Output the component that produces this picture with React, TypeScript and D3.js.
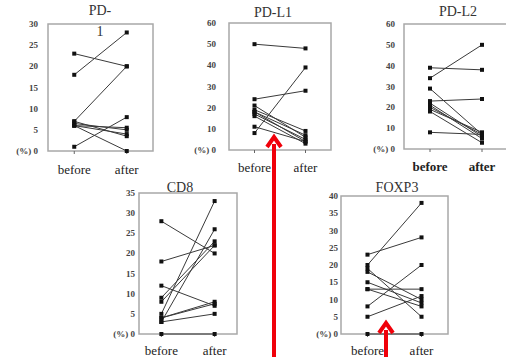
import React from "react";
import { scaleLinear, scalePoint, range } from "d3";

// x categories shared by every panel
const categories = ["before", "after"];

// paired values (%), one entry per patient
const pd1Before = [23, 18, 7, 1, 6.5, 6, 7, 6, 6];
const pd1After = [20, 28, 20, 8, 5, 4, 3.5, 5.5, 0];
const pdl1Before = [50, 24, 8, 19, 18, 17, 18, 21, 11, 16];
const pdl1After = [48, 28, 39, 9, 7, 5, 4, 6, 4, 3];
const pdl2Before = [39, 34, 29, 23, 22, 21, 20, 19, 18, 8];
const pdl2After = [38, 50, 7, 24, 6, 5, 7, 8, 3, 7];
const cd8Before = [28, 18, 12, 5, 3, 9, 8, 4, 3, 4, 0];
const cd8After = [20, 22, 7, 33, 26, 23, 22, 8, 5, 7.5, 0];
const foxp3Before = [23, 20, 18, 19, 15, 13, 13, 8, 5, 0];
const foxp3After = [28, 38, 10, 5, 9, 8, 13, 20, 11, 0];

// y axis extents / tick steps
const pd1Ticks = { max: 30, step: 5 };
const pdlTicks = { max: 60, step: 10 };
const cd8Ticks = { max: 35, step: 5 };
const foxp3Ticks = { max: 40, step: 5 };

const panels = [
  { title: ["PD-", "1"], tx: 100, ty: 15, before: pd1Before, after: pd1After, ticks: pd1Ticks,
    left: 48, right: 153, top: 24, bottom: 151, pad: 0.5, labelY: 174, labelX: 38, bold: false },
  { title: ["PD-L1"], tx: 273, ty: 17, before: pdl1Before, after: pdl1After, ticks: pdlTicks,
    left: 229, right: 331, top: 23, bottom: 150, pad: 0.5, labelY: 172, labelX: 216, bold: false },
  { title: ["PD-L2"], tx: 458, ty: 16, before: pdl2Before, after: pdl2After, ticks: pdlTicks,
    left: 404, right: 508, top: 24, bottom: 149, pad: 0.5, labelY: 171, labelX: 395, bold: true },
  { title: ["CD8"], tx: 180, ty: 192, before: cd8Before, after: cd8After, ticks: cd8Ticks,
    left: 139, right: 237, top: 193, bottom: 334, pad: 0.42, labelY: 355, labelX: 135, bold: false },
  { title: ["FOXP3"], tx: 397, ty: 192, before: foxp3Before, after: foxp3After, ticks: foxp3Ticks,
    left: 341, right: 448, top: 196, bottom: 334, pad: 0.49, labelY: 355, labelX: 338, bold: false },
];

const serif = { fontFamily: "Liberation Serif, DejaVu Serif, Times New Roman, serif" };
const red = "#f0000a";

function Panel({ p }) {
  const x = scalePoint().domain(categories).range([p.left, p.right]).padding(p.pad);
  const y = scaleLinear().domain([0, p.ticks.max]).range([p.bottom, p.top]);
  const ticks = range(0, p.ticks.max + 0.001, p.ticks.step);
  const bx = x("before");
  const ax = x("after");
  return (
    <g>
      <rect x={p.left} y={p.top} width={p.right - p.left} height={p.bottom - p.top}
        fill="none" stroke="#a8a8a8" strokeWidth={1.5} />
      {p.title.map((t, i) => (
        <text key={i} x={p.tx} y={p.ty + i * 21} textAnchor="middle" fontSize={14}
          style={serif} fill="#333">{t}</text>
      ))}
      {ticks.map((t) => (
        <text key={t} x={p.labelX} y={y(t) + 3} textAnchor="end" fontSize={9}
          style={serif} fontWeight="bold" fill="#444">{t === 0 ? "(%) 0" : t}</text>
      ))}
      {categories.map((c) => (
        <g key={c}>
          <line x1={x(c)} x2={x(c)} y1={p.bottom} y2={p.bottom + 3} stroke="#666" />
          <text x={x(c)} y={p.labelY} textAnchor="middle" fontSize={13}
            fontWeight={p.bold ? "bold" : "normal"} style={serif} fill="#222">{c}</text>
        </g>
      ))}
      {p.before.map((b, i) => (
        <line key={"l" + i} x1={bx} y1={y(b)} x2={ax} y2={y(p.after[i])}
          stroke="#3a3a3a" strokeWidth={1} />
      ))}
      {p.before.map((b, i) => (
        <g key={"m" + i}>
          <rect x={bx - 2} y={y(b) - 2} width={4} height={4} fill="#111" />
          <rect x={ax - 2} y={y(p.after[i]) - 2} width={4} height={4} fill="#111" />
        </g>
      ))}
    </g>
  );
}

function Arrow({ tipX, tipY, bottom }) {
  return (
    <g>
      <line x1={tipX} x2={tipX} y1={tipY + 8} y2={bottom} stroke={red} strokeWidth={4} />
      <polyline points={`${tipX - 7},${tipY + 11} ${tipX},${tipY + 1} ${tipX + 7},${tipY + 11}`}
        fill="none" stroke={red} strokeWidth={4} strokeLinejoin="miter" />
    </g>
  );
}

export default function App() {
  return (
    <svg width={506} height={357} style={{ position: "absolute", left: 0, top: 0, background: "#fff" }}>
      <rect width={506} height={357} fill="#fff" />
      {panels.map((p, i) => <Panel key={i} p={p} />)}
      <Arrow tipX={274} tipY={136} bottom={357} />
      <Arrow tipX={386} tipY={322} bottom={357} />
    </svg>
  );
}
